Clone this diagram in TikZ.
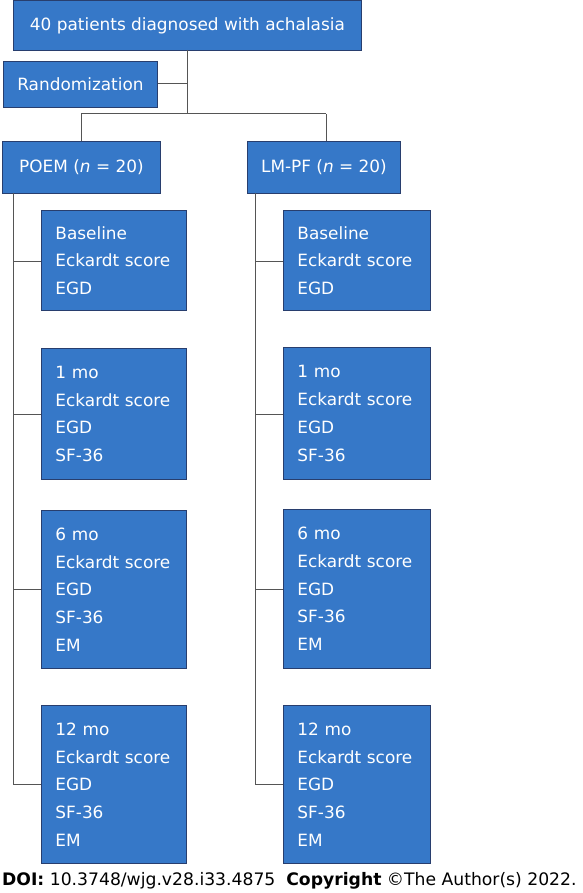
\documentclass[tikz,border=0pt]{standalone}
\usepackage{fontspec}
\setmainfont{DejaVu Sans}
\definecolor{boxfill}{RGB}{54,120,200}
\definecolor{boxedge}{RGB}{40,62,110}
\definecolor{linegray}{RGB}{85,85,85}
\begin{document}
\begin{tikzpicture}[x=1pt,y=-1pt,
  box/.style={draw=boxedge,fill=boxfill,text=white,line width=0.9pt,
    font=\fontsize{16.9}{27.7}\selectfont,inner sep=0pt,anchor=north west},
  conn/.style={draw=linegray,line width=1pt}]
\useasboundingbox (0,0) rectangle (582,893);
% top
\node[box,minimum width=348pt,minimum height=50pt] (top) at (13,0) {40 patients diagnosed with achalasia};
\node[box,minimum width=154pt,minimum height=46pt] (rand) at (3,61) {Randomization};
\node[box,minimum width=158pt,minimum height=52pt] (poem) at (2,141) {POEM (\textit{n} = 20)};
\node[box,minimum width=153pt,minimum height=52pt] (lmpf) at (247,141) {LM-PF (\textit{n} = 20)};
% left column
\node[box,align=left,text width=117pt,inner xsep=14pt,minimum height=100pt] (lb) at (41,210) {Baseline\\Eckardt score\\EGD};
\node[box,align=left,text width=117pt,inner xsep=14pt,minimum height=131pt] (l1) at (41,348) {1 mo\\Eckardt score\\EGD\\SF-36};
\node[box,align=left,text width=117pt,inner xsep=14pt,minimum height=158pt] (l6) at (41,510) {6 mo\\Eckardt score\\EGD\\SF-36\\EM};
\node[box,align=left,text width=117pt,inner xsep=14pt,minimum height=158pt] (l12) at (41,705) {12 mo\\Eckardt score\\EGD\\SF-36\\EM};
% right column
\node[box,align=left,text width=119pt,inner xsep=14pt,minimum height=100pt] (rb) at (283,210) {Baseline\\Eckardt score\\EGD};
\node[box,align=left,text width=119pt,inner xsep=14pt,minimum height=132pt] (r1) at (283,347) {1 mo\\Eckardt score\\EGD\\SF-36};
\node[box,align=left,text width=119pt,inner xsep=14pt,minimum height=159pt] (r6) at (283,509) {6 mo\\Eckardt score\\EGD\\SF-36\\EM};
\node[box,align=left,text width=119pt,inner xsep=14pt,minimum height=158pt] (r12) at (283,705) {12 mo\\Eckardt score\\EGD\\SF-36\\EM};
% connectors
\coordinate (tj) at (187,50);
\coordinate (rj) at (187,84);
\coordinate (sj) at (187,114);
\coordinate (pj) at (81,114);
\coordinate (lj) at (326,114);
\draw[conn] (tj) -- (sj);
\draw[conn] (rand.east |- rj) -- (rj);
\draw[conn] (pj) -- (lj);
\draw[conn] (pj) -- (pj |- poem.north);
\draw[conn] (lj) -- (lj |- lmpf.north);
\coordinate (lt) at (13,193);
\coordinate (le) at (13,784);
\coordinate (rt) at (255,193);
\coordinate (re) at (255,784);
\draw[conn] (lt) -- (le);
\draw[conn] (rt) -- (re);
\draw[conn] (13,261) -- (lb.west |- 0,261);
\draw[conn] (13,414) -- (l1.west |- 0,414);
\draw[conn] (13,589) -- (l6.west |- 0,589);
\draw[conn] (le) -- (l12.west |- le);
\draw[conn] (255,261) -- (rb.west |- 0,261);
\draw[conn] (255,414) -- (r1.west |- 0,414);
\draw[conn] (255,589) -- (r6.west |- 0,589);
\draw[conn] (re) -- (r12.west |- re);
% footer
\node[anchor=base west,inner sep=0pt,font=\fontsize{17.2}{18}\selectfont] (doi) at (2,885) {\textbf{DOI:} 10.3748/wjg.v28.i33.4875\ \ \textbf{Copyright} ©The Author(s) 2022.};
\end{tikzpicture}
\end{document}
